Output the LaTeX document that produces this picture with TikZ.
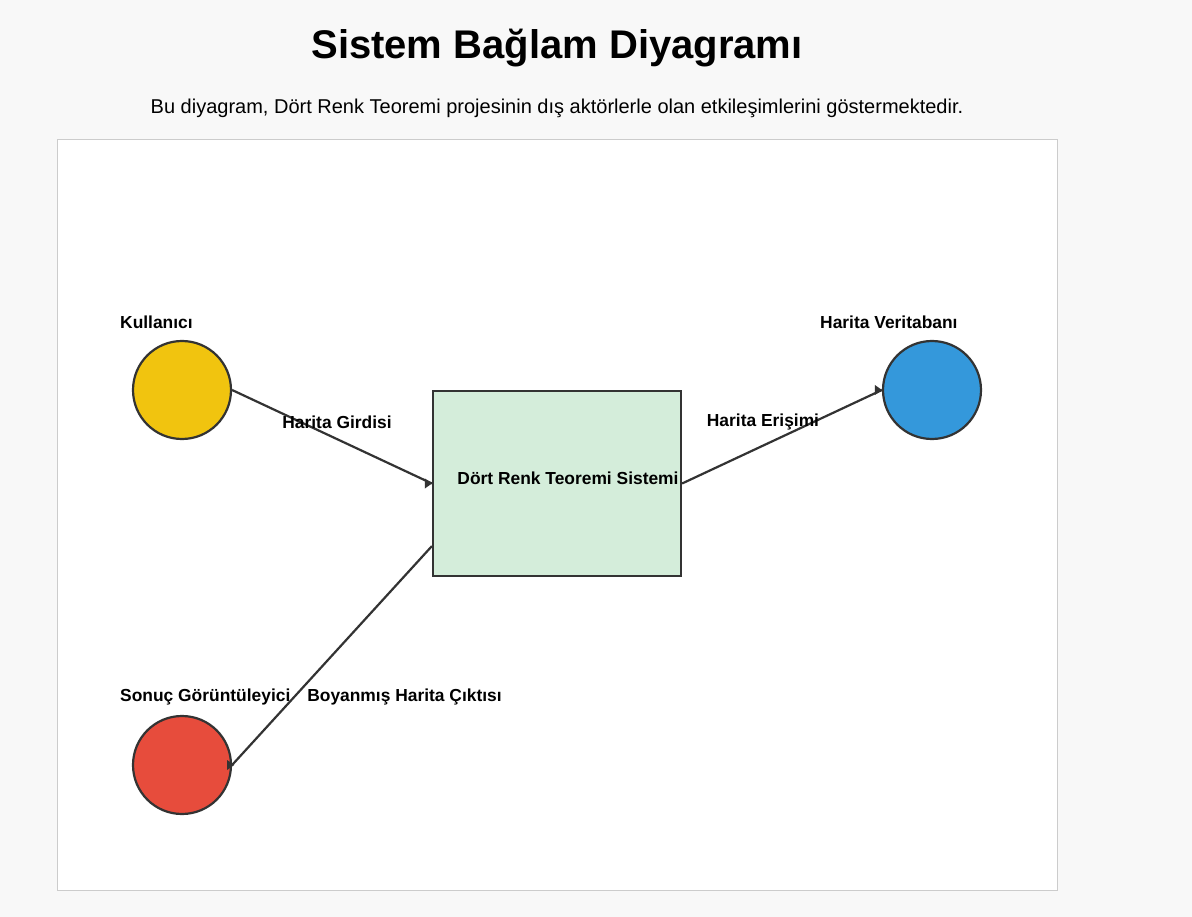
\documentclass[tikz,border=0pt]{standalone}
\usepackage{fontspec}
\setmainfont{Liberation Sans}
\usetikzlibrary{calc}
\definecolor{pagebg}{HTML}{F8F8F8}
\definecolor{panelborder}{HTML}{CCCCCC}
\definecolor{edgecol}{HTML}{333333}
\definecolor{sysfill}{HTML}{D4EDDA}
\definecolor{userfill}{HTML}{F1C40F}
\definecolor{dbfill}{HTML}{3498DB}
\definecolor{viewfill}{HTML}{E74C3C}
\begin{document}
\begin{tikzpicture}[x=1pt,y=-1pt,
  actor/.style={circle,draw=edgecol,line width=2.2pt,minimum size=98pt,inner sep=0pt},
  sysbox/.style={rectangle,draw=edgecol,line width=2.2pt,fill=sysfill,minimum width=248pt,minimum height=185pt,inner sep=0pt},
  lbl/.style={font=\fontsize{17.4}{21}\selectfont\bfseries,inner sep=0pt},
  conn/.style={draw=edgecol,line width=2.2pt},
  tipmark/.style={fill=edgecol}]
\fill[pagebg] (0,0) rectangle (1192,917);
\useasboundingbox (0,0) rectangle (1192,917);
\filldraw[fill=white,draw=panelborder,line width=1pt] (57,140) rectangle (1057,890);
\node[font=\fontsize{40}{46}\selectfont\bfseries,inner sep=0pt] (title) at (557,48) {Sistem Bağlam Diyagramı};
\node[font=\fontsize{20}{24}\selectfont,inner sep=0pt] (subtitle) at (557,108) {Bu diyagram, Dört Renk Teoremi projesinin dış aktörlerle olan etkileşimlerini göstermektedir.};
% nodes
\node[actor,fill=userfill] (user) at (182,390) {};
\node[actor,fill=dbfill] (db) at (932,390) {};
\node[actor,fill=viewfill] (viewer) at (182,765) {};
\node[sysbox] (sys) at (557,483.5) {};
\node[lbl] (syslbl) at (568,478) {Dört Renk Teoremi Sistemi};
% actor labels
\node[lbl,anchor=west] (userlbl) at (120,322) {Kullanıcı};
\node[lbl,anchor=west] (dblbl) at (820,322) {Harita Veritabanı};
\node[lbl,anchor=west] (viewlbl) at (120,697) {Sonuç Görüntüleyici};
% connectors
\coordinate (sysout) at ($(sys.south west)+(0,-31)$);
\path[conn] (user.east) -- (sys.west);
\path[conn] (sys.east) -- (db.west);
\path[conn] (sysout) -- (viewer.east);
\fill[tipmark] (sys.west) -- ++(-7,-5) -- ++(0,10) -- cycle;
\fill[tipmark] (db.west) -- ++(-7,-5) -- ++(0,10) -- cycle;
\fill[tipmark] ($(viewer.east)+(2,0)$) -- ++(-7,-5) -- ++(0,10) -- cycle;
% edge labels
\node[lbl] (l1) at (337,422) {Harita Girdisi};
\node[lbl] (l2) at (763,422) {Harita Erişimi};
\node[lbl] (l3) at (404.5,697) {Boyanmış Harita Çıktısı};
\end{tikzpicture}
\end{document}
